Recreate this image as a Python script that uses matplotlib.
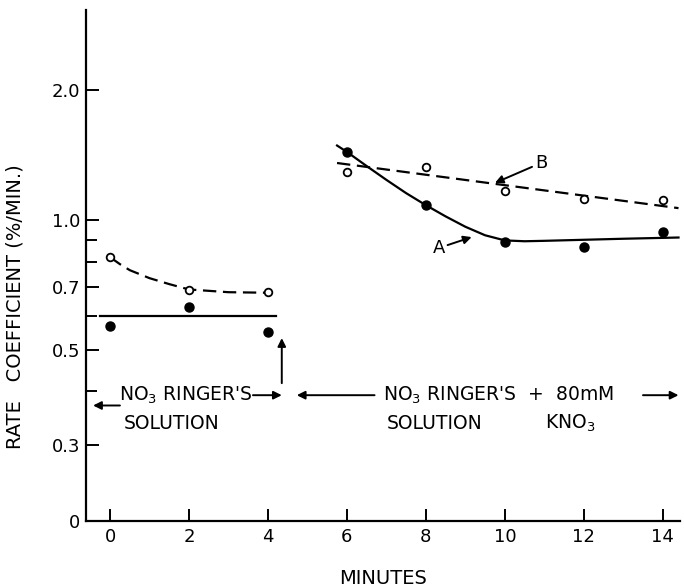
import numpy as np
import matplotlib
matplotlib.use("Agg")
import matplotlib.pyplot as plt
from matplotlib.ticker import FixedLocator, FixedFormatter, NullFormatter

plt.rcParams['font.family'] = ['DejaVu Sans']

# measured points (minutes, rate coefficient %/min)
t_left = [0, 2, 4]
open_left = [0.82, 0.687, 0.68]
filled_left = [0.568, 0.629, 0.549]

t_right = [6, 8, 10, 12, 14]
open_right = [1.293, 1.328, 1.17, 1.119, 1.113]
filled_right = [1.442, 1.083, 0.89, 0.867, 0.94]

# hand drawn fit lines
fit_left_t = [-0.25, 4.2]
fit_left_v = [0.60, 0.60]
dash_left_t = [0, 0.25, 0.5, 1.0, 1.5, 2.0, 3.0, 4.0]
dash_left_v = [0.82, 0.79, 0.765, 0.733, 0.71, 0.69, 0.68, 0.678]
curve_a_t = [5.75, 6, 6.5, 7, 7.5, 8, 8.5, 9, 9.5, 10, 10.5, 11, 12, 13, 14.4]
curve_a_v = [1.49, 1.44, 1.335, 1.24, 1.155, 1.083, 1.02, 0.965, 0.922,
             0.897, 0.893, 0.895, 0.9, 0.905, 0.911]
line_b_t = [5.75, 14.4]
line_b_v = [1.357, 1.066]

ytick_vals = [0.2, 0.3, 0.5, 0.7, 1.0, 2.0]
ytick_labels = ['0', '0.3', '0.5', '0.7', '1.0', '2.0']
yminor_vals = [0.4, 0.6, 0.8, 0.9]
xtick_vals = [0, 2, 4, 6, 8, 10, 12, 14]

fig = plt.figure(figsize=(6.84, 5.87), dpi=100)
ax = fig.add_axes([0.1257, 0.1124, 0.868, 0.871])
ax.set_yscale('log')

fs = 13
lw = 1.6

ax.plot(fit_left_t, fit_left_v, color='black', lw=lw)
ax.plot(dash_left_t, dash_left_v, color='black', lw=lw, dashes=(6, 3))
ax.plot(curve_a_t, curve_a_v, color='black', lw=lw)
ax.plot(line_b_t, line_b_v, color='black', lw=lw, dashes=(6, 3))

ax.plot(t_left, filled_left, 'o', color='black', ms=6.5, zorder=4)
ax.plot(t_right, filled_right, 'o', color='black', ms=6.5, zorder=4)
ax.plot(t_left, open_left, 'o', mfc='white', mec='black', mew=1.3, ms=5.5, zorder=4)
ax.plot(t_right, open_right, 'o', mfc='white', mec='black', mew=1.3, ms=5.5, zorder=4)

ax.set_xlim(-0.61, 14.43)
ax.set_ylim(0.2, 3.08)

ax.yaxis.set_major_locator(FixedLocator(ytick_vals))
ax.yaxis.set_major_formatter(FixedFormatter(ytick_labels))
ax.yaxis.set_minor_locator(FixedLocator(yminor_vals))
ax.yaxis.set_minor_formatter(NullFormatter())
ax.set_xticks(xtick_vals)

ax.tick_params(axis='both', which='both', direction='in', width=1.4,
               labelsize=fs, color='black')
ax.tick_params(axis='y', which='major', length=9, pad=4)
ax.tick_params(axis='y', which='minor', length=8)
ax.tick_params(axis='x', which='major', length=9, pad=5)

for s in ['top', 'right']:
    ax.spines[s].set_visible(False)
for s in ['left', 'bottom']:
    ax.spines[s].set_linewidth(1.6)

ax.set_ylabel("RATE   COEFFICIENT (%/MIN.)", fontsize=14)
ax.yaxis.set_label_coords(-0.103, 0.42)
ax.set_xlabel("MINUTES", fontsize=14)
ax.xaxis.set_label_coords(0.5, -0.094)

arr = dict(arrowstyle='-|>', color='black', lw=1.4, mutation_scale=12,
           shrinkA=0, shrinkB=0)

# left block
ax.text(1.93, 0.392, "NO$_3$ RINGER'S", fontsize=13.5, ha='center', va='center')
ax.text(1.57, 0.337, "SOLUTION", fontsize=13.5, ha='center', va='center')
ax.annotate('', xy=(-0.43, 0.371), xytext=(0.25, 0.371), arrowprops=arr)
ax.annotate('', xy=(4.35, 0.392), xytext=(3.62, 0.392), arrowprops=arr)
ax.annotate('', xy=(4.35, 0.532), xytext=(4.35, 0.418), arrowprops=arr)

# right block
ax.annotate('', xy=(4.73, 0.392), xytext=(6.7, 0.392), arrowprops=arr)
ax.text(9.83, 0.392, "NO$_3$ RINGER'S  +  80mM", fontsize=13.5, ha='center', va='center')
ax.annotate('', xy=(14.4, 0.392), xytext=(13.5, 0.392), arrowprops=arr)
ax.text(8.23, 0.337, "SOLUTION", fontsize=13.5, ha='center', va='center')
ax.text(11.65, 0.337, "KNO$_3$", fontsize=13.5, ha='center', va='center')

# curve labels
ax.annotate('B', xy=(9.75, 1.22), xytext=(10.76, 1.357), fontsize=fs,
            ha='left', va='center', arrowprops=arr)
ax.annotate('A', xy=(9.16, 0.913), xytext=(8.48, 0.861), fontsize=fs,
            ha='right', va='center', arrowprops=arr)

fig.savefig("out.png", dpi=100)
